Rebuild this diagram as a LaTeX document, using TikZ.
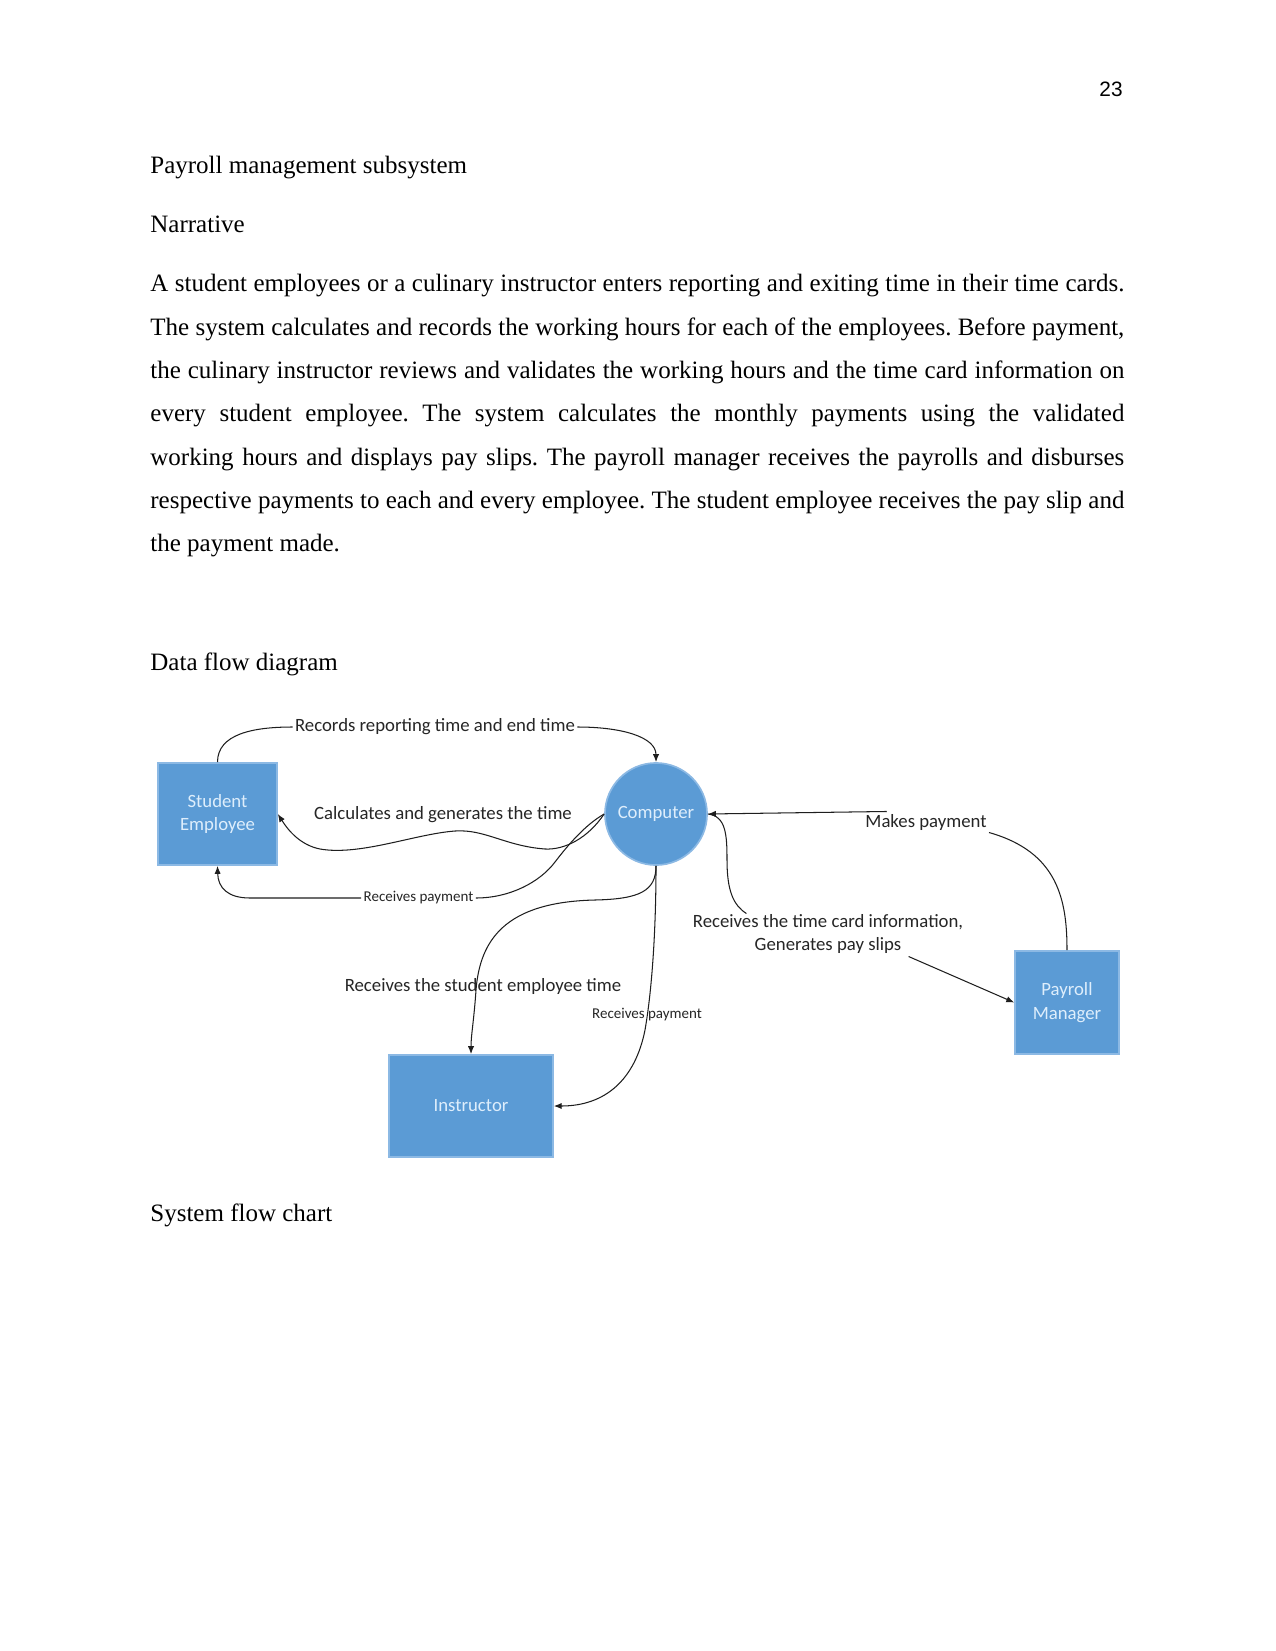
\documentclass[tikz,border=0pt]{standalone}
\usepackage{fontspec}
\setmainfont{Liberation Serif}
\newfontfamily\diafont{Carlito}
\newfontfamily\numfont{Liberation Sans}
\usetikzlibrary{arrows.meta,calc}
\definecolor{boxblue}{RGB}{91,155,213}
\definecolor{boxedge}{RGB}{140,185,228}
\definecolor{boxtext}{RGB}{222,238,252}
\definecolor{linecol}{RGB}{30,30,30}
\frenchspacing
\begin{document}
\begin{tikzpicture}[x=0.48pt,y=-0.48pt,
  body/.style={anchor=base west,inner sep=0pt,font=\fontsize{12}{14}\selectfont},
  entity/.style={draw=boxedge,line width=0.8pt,fill=boxblue,text=boxtext,
    font=\diafont\fontsize{9}{11.2}\selectfont,align=center,inner sep=0pt},
  flowlabel/.style={font=\diafont\fontsize{9}{11.5}\selectfont,inner sep=1pt,text=black!85,align=center},
  smalllabel/.style={font=\diafont\fontsize{7.2}{9}\selectfont,inner sep=1pt,text=black!85},
  flow/.style={draw=linecol,line width=0.5pt},
  arr/.style={flow,-{Latex[length=3.8pt,width=3pt]}}
]
\fill[white] (0,0) rectangle (1275,1651);
\useasboundingbox (0,0) rectangle (1275,1651);

% page text
\node[anchor=base east,inner sep=0pt,font=\numfont\fontsize{10}{12}\selectfont] (pg) at (1123,97) {23};
\node[body] (h1) at (150,173.3) {Payroll management subsystem};
\node[body] (h2) at (150,232.7) {Narrative};
\node[body] (p1) at (150,291.7) {\makebox[467.5pt][s]{A student employees or a culinary instructor enters reporting and exiting time in their time cards.}};
\node[body] (p2) at (150,335.0) {\makebox[467.5pt][s]{The system calculates and records the working hours for each of the employees. Before payment,}};
\node[body] (p3) at (150,378.4) {\makebox[467.5pt][s]{the culinary instructor reviews and validates the working hours and the time card information on}};
\node[body] (p4) at (150,421.7) {\makebox[467.5pt][s]{every student employee. The system calculates the monthly payments using the validated}};
\node[body] (p5) at (150,465.0) {\makebox[467.5pt][s]{working hours and displays pay slips. The payroll manager receives the payrolls and disburses}};
\node[body] (p6) at (150,508.4) {\makebox[467.5pt][s]{respective payments to each and every employee. The student employee receives the pay slip and}};
\node[body] (p7) at (150,551.7) {the payment made.};
\node[body] (h3) at (150,670) {Data flow diagram};
\node[body] (h4) at (150,1221) {System flow chart};

% entities
\node[entity,minimum width=57.1pt,minimum height=49pt] (stud) at (217.5,814) {Student\\Employee};
\node[entity,circle,minimum size=49pt] (comp) at (656,814) {Computer};
\node[entity,minimum width=49.9pt,minimum height=49.4pt] (pm) at (1067,1002.5) {Payroll\\Manager};
\node[entity,minimum width=78.7pt,minimum height=49pt] (inst) at (471,1106) {Instructor};

% labels
\node[flowlabel] (rec) at (435,727) {Records reporting time and end time};
\node[flowlabel] (calc) at (443,815) {Calculates and generates the time};
\node[smalllabel] (rp1) at (418.5,898) {Receives payment};
\node[flowlabel] (mk) at (926,822) {Makes payment};
\node[flowlabel] (tc) at (828,934) {Receives the time card information,\\Generates pay slips};
\node[flowlabel] (set) at (483,986) {Receives the student employee time};
\node[smalllabel] (rp2) at (647,1015) {Receives payment};

% connectors
\draw[flow] (stud.north) .. controls +(0,-28) and +(-40,0) .. (rec.west);
\draw[arr] (rec.east) .. controls +(45,0) and +(0,-25) .. (comp.north);

\draw[arr] (comp.west) .. controls (588,838) and (565,850) .. (545,849)
  .. controls (505,846) and (485,829) .. (455,831)
  .. controls (415,834) and (360,856) .. (320,849)
  .. controls (300,845) and (288,830) .. (stud.east);

\draw[flow] (comp.west) .. controls (585,825) and (568,845) .. (555,862)
  .. controls (540,882) and (510,898) .. (rp1.east);
\draw[arr] (rp1.west) -- (250,898) .. controls (228,898) and (218,888) .. (stud.south);

\draw[arr] (comp.south) .. controls +(0,25) and (640,899) .. (595,900)
  .. controls (505,902) and (480,940) .. (476,990)
  .. controls (474,1020) and (471,1035) .. (inst.north);

\draw[arr] (comp.south) .. controls (656,930) and (652,990) .. (645,1030)
  .. controls (635,1080) and (605,1106) .. (inst.east);

\draw[flow] (pm.north) .. controls (1067,900) and (1058,852) .. (mk.south east);
\draw[arr] (mk.165) -- (comp.east);

\draw[flow] (comp.east) .. controls (726,816) and (727,835) .. (727,860)
  .. controls (727,890) and (733,905) .. ($(tc.north west)+(56,2)$);
\draw[arr] ($(tc.south east)+(-57,0)$) -- (pm.west);
\end{tikzpicture}
\end{document}
